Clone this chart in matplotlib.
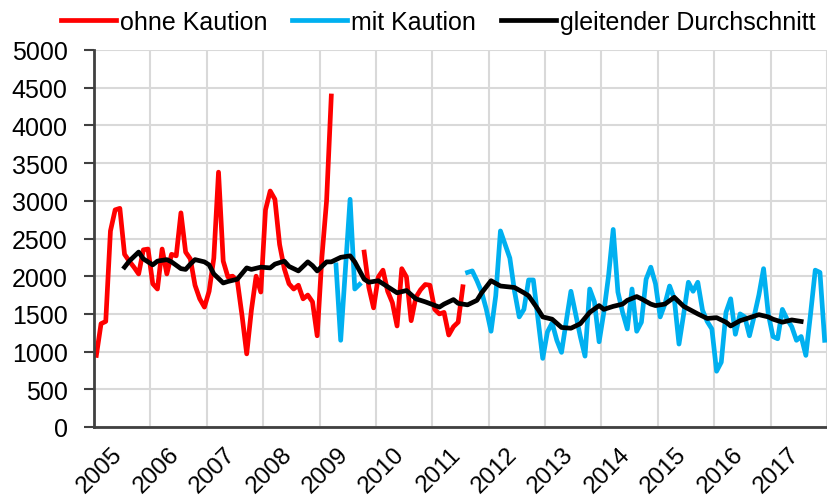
import numpy as np
import matplotlib
matplotlib.use("Agg")
import matplotlib.pyplot as plt
from matplotlib.transforms import ScaledTranslation

# monthly values, Jan 2005 .. Dec 2017 (156 months)
years = list(range(2005, 2018))
n_months = 12 * len(years)

# ohne Kaution (red)
ohne_start_1 = 0
ohne_1 = [950, 1370, 1400, 2600, 2880, 2900, 2290, 2200, 2120, 2030, 2350, 2360,
          1900, 1830, 2360, 2030, 2290, 2270, 2840, 2320, 2230, 1880, 1700, 1590,
          1800, 2240, 3380, 2200, 1990, 2000, 1940, 1480, 970, 1550, 2000, 1790,
          2880, 3130, 3020, 2420, 2100, 1900, 1830, 1880, 1700, 1750, 1660, 1210,
          2250, 3000, 4390]
ohne_start_2 = 57
ohne_2 = [2320, 1850, 1580, 1990, 2080, 1800, 1650, 1340, 2100, 1990, 1410, 1720,
          1820, 1890, 1880, 1560, 1500, 1520, 1220, 1330, 1390, 1860]

# mit Kaution (blue)
mit_start_1 = 51
mit_1 = [2150, 1150, 2080, 3020, 1830, 1890]
mit_start_2 = 79
mit_2 = [2050, 2070, 1940, 1790, 1560,
         1270, 1740, 2600, 2420, 2240, 1800, 1460, 1560, 1950, 1950, 1430, 910,
         1260, 1380, 1150, 990, 1400, 1800, 1500, 1200, 940, 1830, 1660, 1130,
         1520, 2000, 2620, 1790, 1520, 1300, 1830, 1270, 1390, 1960, 2120, 1900,
         1460, 1630, 1870, 1700, 1100, 1500, 1920, 1800, 1920, 1550, 1400, 1300,
         740, 860, 1520, 1700, 1230, 1500, 1460, 1210, 1470, 1750, 2100, 1500,
         1200, 1170, 1560, 1430, 1330, 1150, 1200, 950, 1500, 2080, 2050, 1150]

# gleitender Durchschnitt (black), read at these months
avg_months = [6, 7, 9, 10, 12, 13, 15, 16, 18, 19, 20, 21, 23, 24, 25, 27, 28, 30,
              32, 33, 35, 37, 38, 40, 41, 43, 45, 46, 47, 49, 50, 52, 54, 55, 57,
              58, 60, 62, 64, 66, 68, 70, 73, 74, 76, 77, 79, 81, 82, 84, 86, 89,
              91, 92, 94, 95, 97, 99, 101, 103, 105, 107, 108, 110, 112, 113, 115,
              116, 118, 119, 121, 123, 125, 128, 130, 132, 134, 135, 137, 138, 141,
              143, 144, 146, 148, 150]
avg_vals = [2120, 2200, 2320, 2230, 2150, 2200, 2220, 2190, 2100, 2090, 2160, 2220,
            2190, 2150, 2030, 1910, 1930, 1960, 2110, 2090, 2120, 2110, 2160, 2200,
            2130, 2070, 2190, 2140, 2070, 2190, 2190, 2250, 2270, 2190, 1960, 1920,
            1940, 1860, 1780, 1810, 1700, 1660, 1590, 1630, 1690, 1640, 1620, 1680,
            1780, 1940, 1870, 1850, 1780, 1740, 1560, 1460, 1430, 1320, 1310, 1370,
            1520, 1610, 1560, 1600, 1630, 1680, 1730, 1700, 1630, 1610, 1630, 1720,
            1600, 1500, 1440, 1450, 1390, 1340, 1410, 1430, 1490, 1460, 1430, 1390,
            1420, 1400]


def build(parts):
    arr = np.full(n_months, np.nan)
    for start, vals in parts:
        arr[start:start + len(vals)] = vals
    return arr


ohne = build([(ohne_start_1, ohne_1), (ohne_start_2, ohne_2)])
mit = build([(mit_start_1, mit_1), (mit_start_2, mit_2)])
x = np.arange(n_months) + 0.5

plt.rcParams['font.family'] = ['Liberation Sans', 'DejaVu Sans']
fig = plt.figure(figsize=(8.28, 5.02), dpi=100)
ax = fig.add_axes([94 / 828, 74 / 502, 733 / 828, 377 / 502])

lw = 3.4
ax.plot(x, ohne, color='#ff0000', lw=lw, label='ohne Kaution', solid_joinstyle='round')
ax.plot(x, mit, color='#00b0f0', lw=lw, label='mit Kaution', solid_joinstyle='round')
ax.plot(np.array(avg_months) + 0.5, avg_vals, color='black', lw=lw,
        label='gleitender Durchschnitt', solid_joinstyle='round')

ax.set_xlim(0, n_months)
ax.set_ylim(0, 5000)
ax.set_yticks(range(0, 5001, 500))
ax.set_xticks(range(0, n_months + 1, 12))
ax.set_xticklabels([])
ax.set_xticks(np.arange(len(years)) * 12 + 6, minor=True)
ax.set_xticklabels([str(y) for y in years], minor=True, rotation=45,
                   ha='right', va='center', rotation_mode='anchor')
ax.tick_params(axis='x', which='both', length=0, labelsize=17.5)
ax.tick_params(axis='x', which='minor', pad=17)
ax.tick_params(axis='y', length=7, width=1.5, color='#404040', labelsize=18, pad=12)
shift = ScaledTranslation(-3 / 100, 0, fig.dpi_scale_trans)
for lab in ax.get_xticklabels(minor=True):
    lab.set_transform(lab.get_transform() + shift)

ax.grid(True, which='major', color='#d9d9d9', lw=1.5)
ax.set_axisbelow(True)
for side in ['top', 'right']:
    ax.spines[side].set_visible(False)
for side in ['left', 'bottom']:
    ax.spines[side].set_color('#404040')
    ax.spines[side].set_linewidth(2)

fig.legend(loc='center', bbox_to_anchor=(0.529, 0.954), ncol=3, frameon=False,
           fontsize=18, handlelength=2.2, handletextpad=0.16, columnspacing=1.0,
           borderpad=0, borderaxespad=0)

fig.savefig('out.png', dpi=100)
